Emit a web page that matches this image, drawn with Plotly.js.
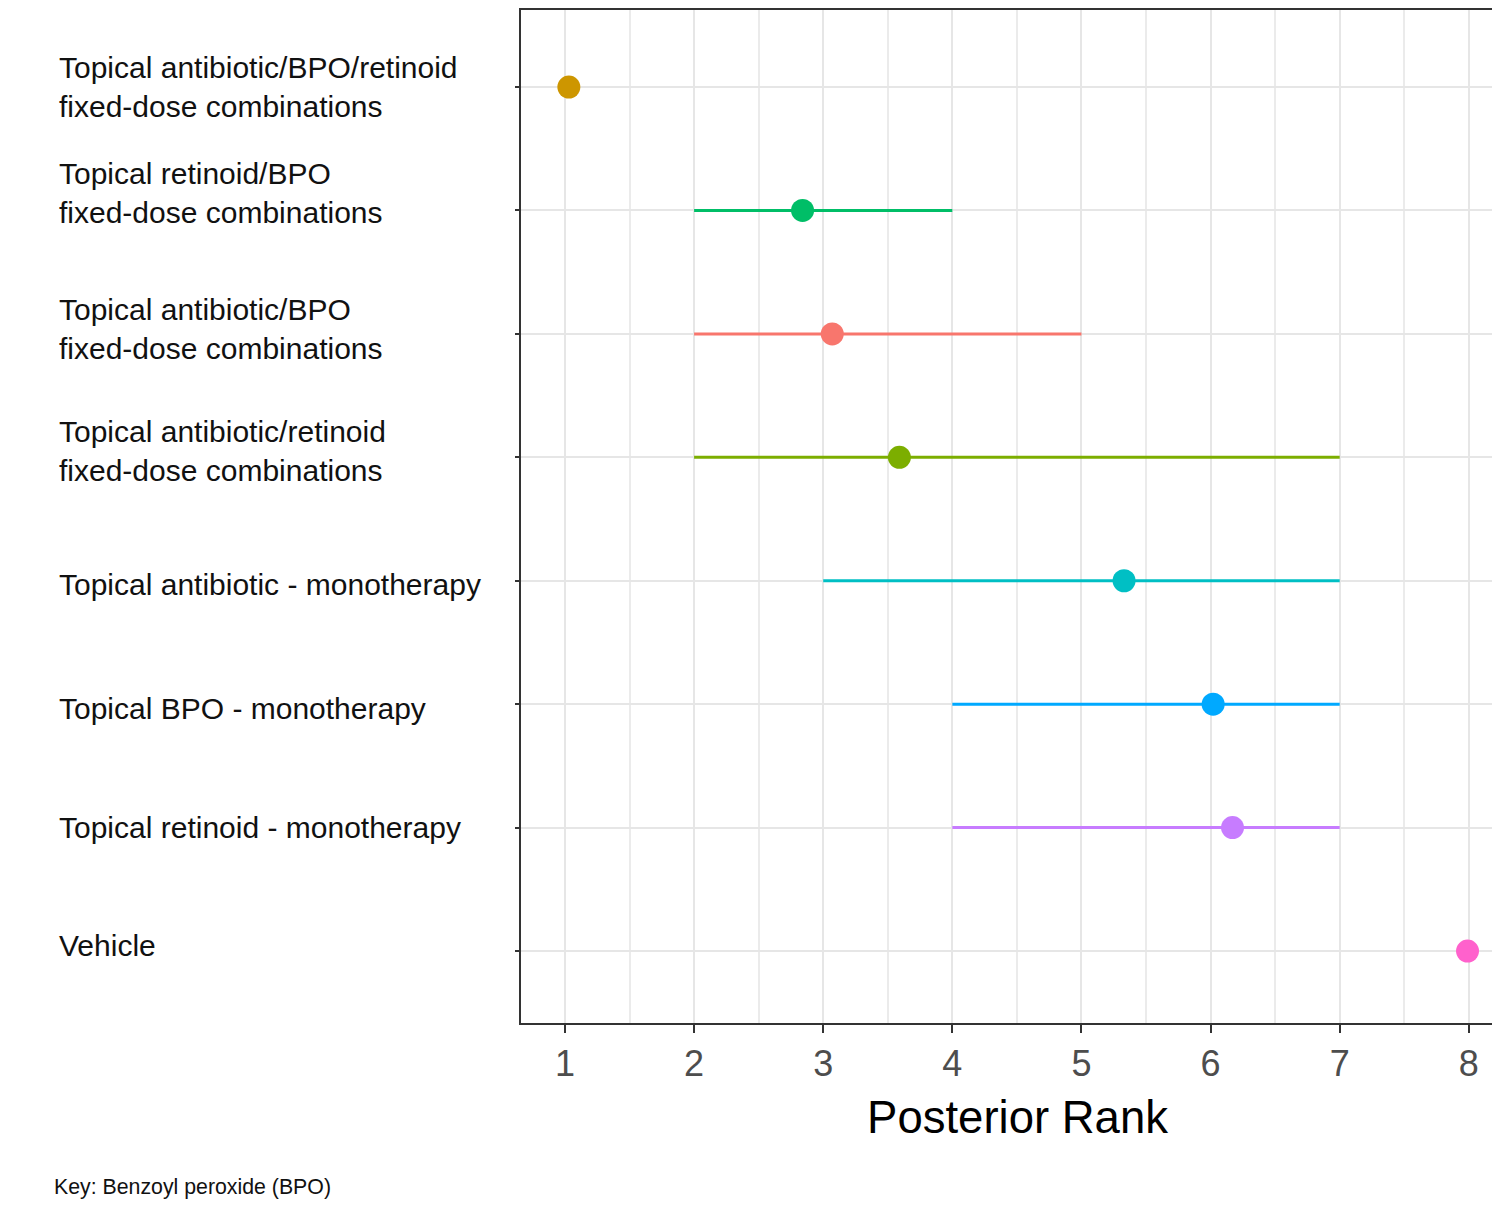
<!DOCTYPE html>
<html>
<head>
<meta charset="utf-8">
<script src="https://cdn.plot.ly/plotly-3.0.1.min.js"></script>
<style>
html,body{margin:0;padding:0;overflow:hidden;background:#fff;}
#chart{width:1514px;height:1210px;}
</style>
</head>
<body>
<div id="chart"></div>
<script>
// ---- data ----
const treatments = [
  "Topical antibiotic/BPO/retinoid<br>fixed-dose combinations",
  "Topical retinoid/BPO<br>fixed-dose combinations",
  "Topical antibiotic/BPO<br>fixed-dose combinations",
  "Topical antibiotic/retinoid<br>fixed-dose combinations",
  "Topical antibiotic - monotherapy",
  "Topical BPO - monotherapy",
  "Topical retinoid - monotherapy",
  "Vehicle"
];
const medianRank = [1.03, 2.84, 3.07, 3.59, 5.33, 6.02, 6.17, 7.99];
const lowerRank  = [1, 2, 2, 2, 3, 4, 4, 8];
const upperRank  = [1, 4, 5, 7, 7, 7, 7, 8];
const colors = ["#CD9600", "#00BE67", "#F8766D", "#7CAE00", "#00BFC4", "#00A9FF", "#C77CFF", "#FF61CC"];
const xTicks = [1, 2, 3, 4, 5, 6, 7, 8];
const labelShift = [0, 17, 5, 6, -4, -4, 0, 6];

// ---- traces ----
const traces = treatments.map((t, i) => ({
  type: "scatter",
  mode: "markers",
  x: [medianRank[i]],
  y: [i],
  marker: {color: colors[i], size: 23},
  error_x: {
    type: "data", symmetric: false,
    array: [upperRank[i] - medianRank[i]],
    arrayminus: [medianRank[i] - lowerRank[i]],
    color: colors[i], thickness: 3, width: 0
  },
  showlegend: false,
  hoverinfo: "x"
}));

const annotations = treatments.map((t, i) => ({
  xref: "paper", yref: "y",
  x: -0.4673, y: i, yshift: labelShift[i],
  xanchor: "left", yanchor: "middle", align: "left",
  text: t, showarrow: false,
  font: {family: "Liberation Sans, Arial, sans-serif", size: 30, color: "#111"}
}));
annotations.push({
  xref: "paper", yref: "paper",
  x: -0.4723, y: -0.1619,
  xanchor: "left", yanchor: "middle",
  text: "Key: Benzoyl peroxide (BPO)", showarrow: false,
  font: {family: "Liberation Sans, Arial, sans-serif", size: 21.3, color: "#111"}
});

const layout = {
  width: 1514, height: 1210,
  margin: {l: 521, r: 0, t: 10, b: 187},
  paper_bgcolor: "#fff", plot_bgcolor: "#fff",
  xaxis: {
    range: [0.6594, 8.35],
    tickvals: xTicks,
    ticktext: xTicks.map(String),
    showgrid: true, gridcolor: "#e6e6e6", gridwidth: 2,
    minor: {dtick: 0.5, tick0: 0.5, showgrid: true, gridcolor: "#ebebeb", gridwidth: 2},
    zeroline: false,
    showline: true, linecolor: "#333", linewidth: 2, mirror: true,
    ticks: "outside", ticklen: 8, tickwidth: 2, tickcolor: "#333",
    tickfont: {family: "Liberation Sans, Arial, sans-serif", size: 36, color: "#4d4d4d"},
    title: {text: "Posterior Rank", standoff: 18,
            font: {family: "Liberation Sans, Arial, sans-serif", size: 45.5, color: "#000"}}
  },
  yaxis: {
    range: [7.583, -0.624],
    tickvals: treatments.map((t, i) => i),
    showticklabels: false,
    showgrid: true, gridcolor: "#e6e6e6", gridwidth: 2,
    zeroline: false,
    showline: true, linecolor: "#333", linewidth: 2, mirror: true,
    ticks: "outside", ticklen: 4, tickwidth: 2, tickcolor: "#333"
  },
  annotations: annotations
};

Plotly.newPlot("chart", traces, layout, {displayModeBar: false, staticPlot: true});
</script>
</body>
</html>
